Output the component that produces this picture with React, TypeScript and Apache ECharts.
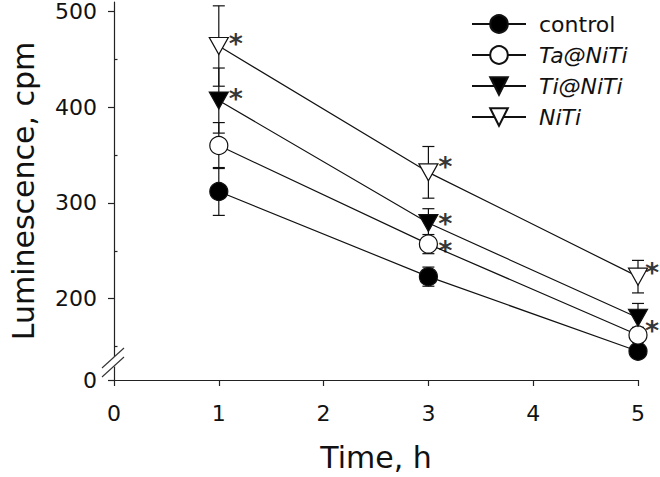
import React, { useEffect, useRef } from "react";
import * as echarts from "echarts";

const times = [1, 3, 5];
const seriesNames = ["control", "Ta@NiTi", "Ti@NiTi", "NiTi"];
const controlVals = [312, 223, 145];
const controlErr = [25, 10, 6];
const taVals = [360, 257, 162];
const taErr = [24, 10, 8];
const tiVals = [407, 279, 180];
const tiErr = [34, 15, 15];
const nitiVals = [464, 332, 223];
const nitiErr = [42, 27, 17];
// significance flags (asterisk) per time point
const controlSig = [false, false, false];
const taSig = [false, true, false];
const tiSig = [true, true, true];
const nitiSig = [true, true, true];
const yMajorTicks = [200, 300, 400, 500];
const yMinorTicks = [150, 250, 350, 450];
const xTicks = [0, 1, 2, 3, 4, 5];

const Y_MIN = 115;
const Y_MAX = 510;
const FONT = "DejaVu Sans";

// asterisk label offsets (visual annotation placement)
const starOffsets: Record<string, number[][]> = {
  "Ta@NiTi": [[0, 0], [17, 6], [0, 0]],
  "Ti@NiTi": [[17, -2], [17, 0], [14, 13]],
  NiTi: [[17, -3], [17, -6], [14, -4]],
  control: [[0, 0], [0, 0], [0, 0]],
};

export default function App() {
  const ref = useRef<HTMLDivElement>(null);
  useEffect(() => {
    if (!ref.current) return;
    const chart = echarts.init(ref.current, undefined, { renderer: "svg" });

    const defs = [
      { name: seriesNames[0], vals: controlVals, err: controlErr, sig: controlSig, symbol: "circle", rot: 0, fill: "#000", size: 18 },
      { name: seriesNames[1], vals: taVals, err: taErr, sig: taSig, symbol: "circle", rot: 0, fill: "#fff", size: 18 },
      { name: seriesNames[2], vals: tiVals, err: tiErr, sig: tiSig, symbol: "triangle", rot: 180, fill: "#000", size: [19, 17] },
      { name: seriesNames[3], vals: nitiVals, err: nitiErr, sig: nitiSig, symbol: "triangle", rot: 180, fill: "#fff", size: [19, 17] },
    ];

    const errSeries = defs.map((d) => ({
      type: "custom",
      name: d.name + "_err",
      z: 1,
      silent: true,
      clip: false,
      data: times.map((t, i) => [t, d.vals[i] - d.err[i], d.vals[i] + d.err[i]]),
      renderItem: (params: any, api: any) => {
        const x = api.value(0);
        const lo = api.coord([x, api.value(1)]);
        const hi = api.coord([x, api.value(2)]);
        const hw = 6;
        const style = { stroke: "#111", lineWidth: 1.2 };
        return {
          type: "group",
          children: [
            { type: "line", shape: { x1: lo[0], y1: lo[1], x2: hi[0], y2: hi[1] }, style },
            { type: "line", shape: { x1: lo[0] - hw, y1: lo[1], x2: lo[0] + hw, y2: lo[1] }, style },
            { type: "line", shape: { x1: hi[0] - hw, y1: hi[1], x2: hi[0] + hw, y2: hi[1] }, style },
          ],
        };
      },
    }));

    const lineSeries = defs.map((d, k) => ({
      type: "line",
      name: d.name,
      z: 3 + k,
      clip: false,
      data: times.map((t, i) => [t, d.vals[i]]),
      symbol: d.symbol,
      symbolSize: d.size,
      symbolRotate: d.rot,
      showAllSymbol: true,
      lineStyle: { color: "#111", width: 1.2 },
      itemStyle: { color: d.fill, borderColor: "#111", borderWidth: 1.2 },
      emphasis: { disabled: true },
    }));

    const starData: any[] = [];
    defs.forEach((d) => {
      times.forEach((t, i) => {
        if (d.sig[i]) {
          starData.push({
            value: [t, d.vals[i]],
            label: { offset: starOffsets[d.name][i] },
          });
        }
      });
    });
    const starSeries = {
      type: "scatter",
      name: "stars",
      z: 10,
      clip: false,
      symbolSize: 0,
      silent: true,
      itemStyle: { color: "#000" },
      data: starData,
      label: {
        show: true,
        position: "inside",
        formatter: "*",
        fontSize: 27,
        fontWeight: "bold",
        lineHeight: 14,
        fontFamily: FONT,
        color: "#000",
        textBorderWidth: 0,
      },
    };

    chart.setOption({
      animation: false,
      backgroundColor: "#fff",
      grid: { left: 113, right: 22, top: 2, bottom: 96, containLabel: false },
      legend: {
        orient: "vertical",
        left: 466,
        top: 8,
        itemWidth: 54,
        itemHeight: 22,
        itemGap: 9,
        selectedMode: false,
        textStyle: { fontSize: 22, fontFamily: FONT, color: "#111", padding: [0, 0, 0, 8] },
        data: [
          { name: seriesNames[0] },
          { name: seriesNames[1], textStyle: { fontStyle: "italic" } },
          { name: seriesNames[2], textStyle: { fontStyle: "italic" } },
          { name: seriesNames[3], textStyle: { fontStyle: "italic" } },
        ],
      },
      xAxis: {
        type: "value",
        min: 0,
        max: 5,
        interval: 1,
        name: "Time, h",
        nameLocation: "middle",
        nameGap: 62,
        nameTextStyle: { fontSize: 30, fontFamily: FONT, color: "#111" },
        axisLine: { onZero: false, lineStyle: { color: "#222", width: 1.2 } },
        axisTick: { show: true, inside: false, length: 6, lineStyle: { color: "#222", width: 1.2 }, customValues: xTicks },
        axisLabel: { fontSize: 22, fontFamily: FONT, color: "#111", margin: 22, customValues: xTicks },
        splitLine: { show: false },
      },
      yAxis: [
        {
          type: "value",
          min: Y_MIN,
          max: Y_MAX,
          name: "Luminescence, cpm",
          nameLocation: "middle",
          nameGap: 76,
          nameTextStyle: { fontSize: 30, fontFamily: FONT, color: "#111" },
          axisLine: { show: true, onZero: false, lineStyle: { color: "#222", width: 1.2 } },
          axisTick: {
            show: true,
            length: 6,
            lineStyle: { color: "#222", width: 1.2 },
            customValues: [Y_MIN, ...yMajorTicks],
          },
          axisLabel: {
            fontSize: 22,
            fontFamily: FONT,
            color: "#111",
            margin: 17,
            padding: [3, 0, 0, 0],
            customValues: [Y_MIN, ...yMajorTicks],
            formatter: (v: number) => (v === Y_MIN ? "0" : String(v)),
          },
          splitLine: { show: false },
        },
        {
          type: "value",
          min: Y_MIN,
          max: Y_MAX,
          axisLine: { show: false },
          axisTick: { show: true, length: 3.5, lineStyle: { color: "#222", width: 1.2 }, customValues: yMinorTicks },
          axisLabel: { show: false },
          splitLine: { show: false },
        },
      ],
      graphic: [
        {
          type: "polygon",
          z: 100,
          shape: { points: [[101, 369], [125, 347], [125, 357], [101, 379]] },
          style: { fill: "#fff" },
        },
        {
          type: "line",
          z: 101,
          shape: { x1: 102, y1: 368, x2: 124, y2: 348 },
          style: { stroke: "#333", lineWidth: 1.1 },
        },
        {
          type: "line",
          z: 101,
          shape: { x1: 102, y1: 377, x2: 124, y2: 357 },
          style: { stroke: "#333", lineWidth: 1.1 },
        },
      ],
      series: [...errSeries, ...lineSeries, starSeries],
    });
    return () => chart.dispose();
  }, []);
  return (
    <div
      ref={ref}
      style={{ position: "absolute", left: 0, top: 0, width: 660, height: 477 }}
    />
  );
}
